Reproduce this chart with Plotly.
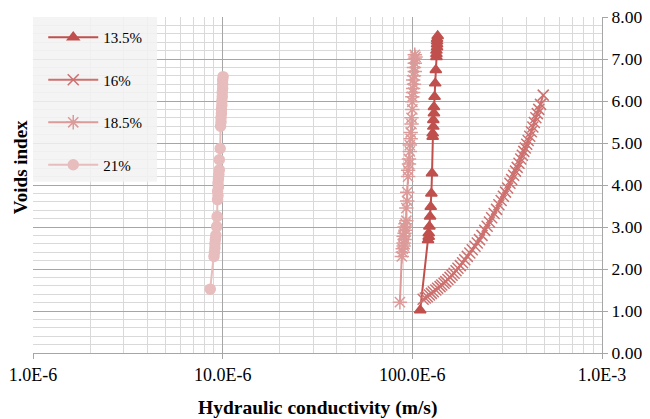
import plotly.graph_objects as go

# ---- data (hydraulic conductivity in 1e-6 m/s, voids index) ----
k_135 = [110, 121, 122, 122, 123, 124, 125, 126, 127, 128, 128, 129, 129, 130, 130,
         131, 132, 133, 134, 134, 134, 135, 135, 135, 135, 136]
e_135 = [1.02, 2.69, 2.77, 2.85, 3.01, 3.25, 3.48, 3.80, 4.28, 5.15, 5.23, 5.39, 5.55, 5.71, 5.86,
         6.10, 6.42, 6.74, 7.05, 7.12, 7.20, 7.28, 7.35, 7.42, 7.48, 7.55]

k_16 = [114, 117, 120, 123, 126, 129, 133, 136, 140, 143, 147, 150, 154, 158, 162, 166, 170,
        174, 179, 184, 189, 195, 201, 207, 214, 220, 226, 233, 241, 248, 255, 262, 270,
        278, 286, 294, 302, 310, 318, 327, 334, 342, 350, 357, 365, 373, 380, 387, 394,
        401, 408, 416, 424, 432, 440, 448, 456, 464, 474, 490]
e_16 = [1.28, 1.31, 1.34, 1.38, 1.42, 1.46, 1.50, 1.54, 1.58, 1.62, 1.66, 1.70, 1.75, 1.80, 1.85, 1.90, 1.96,
        2.02, 2.08, 2.15, 2.22, 2.30, 2.38, 2.46, 2.54, 2.62, 2.70, 2.80, 2.92, 3.02, 3.12, 3.22, 3.32,
        3.42, 3.53, 3.63, 3.73, 3.83, 3.93, 4.04, 4.13, 4.23, 4.33, 4.42, 4.52, 4.62, 4.71, 4.80, 4.88,
        4.97, 5.06, 5.16, 5.27, 5.38, 5.49, 5.60, 5.70, 5.80, 5.92, 6.14]

k_185 = [86, 88, 89, 89, 90, 90, 91, 90, 91, 92, 91, 92, 93, 93, 94, 94,
         95, 95, 96, 96, 97, 97, 98, 98, 99, 99, 100, 100,
         100, 101, 101, 102, 101, 102, 103, 102, 103, 103, 104, 103]
e_185 = [1.21, 2.30, 2.40, 2.48, 2.55, 2.62, 2.70, 2.78, 2.85, 2.92, 3.00, 3.08, 3.15, 3.45, 3.62, 3.83,
         4.20, 4.35, 4.50, 4.62, 4.80, 4.95, 5.10, 5.25, 5.45, 5.60, 5.80, 5.98,
         6.10, 6.20, 6.30, 6.40, 6.50, 6.60, 6.70, 6.80, 6.90, 7.00, 7.05, 7.10]

k_21 = [8.6, 9.0, 9.05, 9.1, 9.1, 9.15, 9.2, 9.3, 9.35, 9.4, 9.45, 9.4, 9.5, 9.45, 9.5, 9.55,
        9.6, 9.6, 9.7, 9.75, 9.8, 9.8, 9.85, 9.85, 9.9, 9.9, 9.95, 9.95, 10.0, 10.0, 10.0, 10.05]
e_21 = [1.52, 2.30, 2.40, 2.50, 2.60, 2.70, 2.80, 3.01, 3.25, 3.65, 3.75, 3.85, 3.95, 4.05, 4.15, 4.25,
        4.36, 4.60, 4.87, 5.40, 5.50, 5.60, 5.70, 5.80, 5.90, 6.00, 6.10, 6.20, 6.30, 6.40, 6.50, 6.58]

x_tickvals = [1e-6, 1e-5, 1e-4, 1e-3]
x_ticktext = ["1.0E-6", "10.0E-6", "100.0E-6", "1.0E-3"]
y_tickvals = [0, 1, 2, 3, 4, 5, 6, 7, 8]

series = [
    ("13.5%", k_135, e_135, "#c0504d", "triangle-up", 10),
    ("16%", k_16, e_16, "#cd7170", "x-thin-open", 11),
    ("18.5%", k_185, e_185, "#dc9a99", "asterisk-open", 12),
    ("21%", k_21, e_21, "#e8bdbd", "circle", 10),
]

fig = go.Figure()
for i, (name, k, e, col, sym, sz) in enumerate(series):
    fig.add_trace(go.Scatter(
        x=[v * 1e-6 for v in k], y=e, name=name, mode="lines+markers",
        legendgroup=f"g{i}",
        line=dict(color=col, width=2),
        marker=dict(symbol=sym, size=sz, color=col, line=dict(color=col, width=1.5)),
    ))

font_family = "Liberation Serif, Times New Roman, serif"
fig.update_layout(
    width=650, height=419,
    margin=dict(l=25, r=56, t=9, b=74),
    paper_bgcolor="white", plot_bgcolor="white",
    font=dict(family=font_family, size=15, color="#000000"),
    showlegend=True,
    legend=dict(
        x=0.018, y=0.988, xanchor="left", yanchor="top",
        bgcolor="rgba(0,0,0,0)",
        font=dict(family=font_family, size=15, color="#000"),
        traceorder="grouped", tracegroupgap=20,
        itemwidth=50,
    ),
    shapes=[dict(
        type="rect", xref="paper", yref="paper", layer="above",
        x0=0, x1=0.218, y0=0.51, y1=1,
        fillcolor="rgba(242,242,242,0.85)", line=dict(width=0),
    )],
    xaxis=dict(
        type="log", range=[-6, -3], automargin=False,
        tickvals=x_tickvals, ticktext=x_ticktext,
        ticklabeloverflow="allow",
        showgrid=True, gridcolor="#a6a6a6", gridwidth=1,
        minor=dict(dtick="D1", showgrid=True, gridcolor="#d9d9d9", ticks=""),
        showline=True, linecolor="#a6a6a6", linewidth=1,
        ticks="outside", ticklen=5, tickcolor="#a6a6a6",
        zeroline=False,
        tickfont=dict(family=font_family, size=18),
    ),
    yaxis=dict(
        range=[0, 8], side="right", automargin=False,
        tickvals=y_tickvals, tickformat=".2f",
        ticklabeloverflow="allow",
        showgrid=True, gridcolor="#a6a6a6", gridwidth=1,
        minor=dict(dtick=0.2, showgrid=True, gridcolor="#d9d9d9", ticks=""),
        showline=True, linecolor="#a6a6a6", linewidth=1,
        ticks="outside", ticklen=5, tickcolor="#a6a6a6",
        zeroline=False,
        tickfont=dict(family=font_family, size=17.5),
    ),
    annotations=[
        dict(text="<b>Voids index</b>", xref="paper", yref="paper",
             x=0, xshift=-13, y=0.553, xanchor="center", yanchor="middle",
             textangle=-90, showarrow=False,
             font=dict(family=font_family, size=19, color="#000")),
        dict(text="<b>Hydraulic conductivity (m/s)</b>", xref="paper", yref="paper",
             x=0.5, y=0, yshift=-55, xanchor="center", yanchor="middle",
             showarrow=False,
             font=dict(family=font_family, size=19.5, color="#000")),
    ],
)

fig.write_html("out.html")
